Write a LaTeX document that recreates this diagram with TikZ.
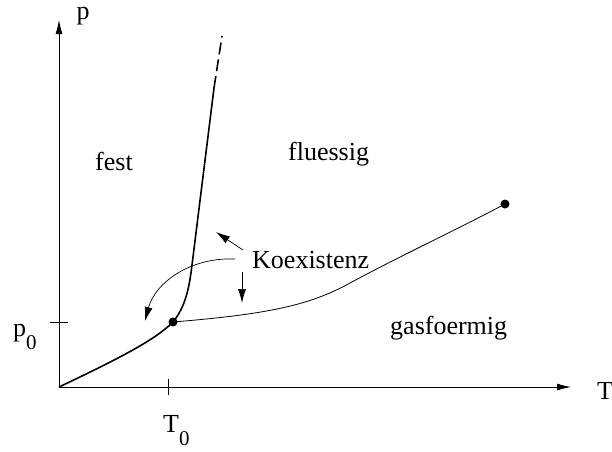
\documentclass[tikz,border=0pt]{standalone}
\usepackage{fontspec}
\setmainfont{Liberation Serif}
\usepackage{tikz}
\usetikzlibrary{arrows.meta,positioning,calc}
\newcommand{\lowidx}[1]{\raisebox{-13pt}{\fontsize{21}{21}\selectfont #1}}

\begin{document}
\begin{tikzpicture}[x=1pt, y=-1pt,
    every node/.style={font=\fontsize{26}{31}\selectfont, inner sep=2pt},
    axis/.style={line width=0.8pt, -{Latex[length=14pt, width=7pt]}},
    phase/.style={line width=1.6pt},
    vapour/.style={line width=0.8pt},
    hint/.style={line width=0.7pt, -{Latex[length=14pt, width=8pt]}},
    pt/.style={circle, fill=black, inner sep=0pt, minimum size=9pt}
  ]
    \useasboundingbox (0,0) rectangle (612,451);
    % Axes
    \coordinate (O) at (59,387);
    \coordinate (xend) at (571,387);
    \coordinate (yend) at (59,20);
    \draw[axis] (O) -- (xend);
    \draw[axis] (O) -- (yend);
    \node (Tlab) at (605,391) {T};
    \node (plab) at (83,16) {p};
    % Ticks
    \coordinate (pl) at (50,322);
    \coordinate (pr) at (68,322);
    \coordinate (tt) at (168,379);
    \coordinate (tb) at (168,395);
    \draw[line width=0.8pt] (pl) -- (pr);
    \draw[line width=0.8pt] (tt) -- (tb);
    \node[anchor=base west] (p0) at (11,336) {p\lowidx{0}};
    \node[anchor=base west] (T0) at (161,432) {T\lowidx{0}};
    % Points
    \node[pt] (tp) at (173,322) {};
    \node[pt] (cp) at (505,204) {};
    % Sublimation and melting curve
    \coordinate (mtop) at (214,88);
    \coordinate (mdash) at (222,36);
    \draw[phase] (O) .. controls (120,358) and (155,340) .. (tp.center)
      .. controls (185,307) and (189,290) .. (192,265) -- (mtop);
    \draw[phase, dash pattern=on 12pt off 5pt] (mtop) -- (mdash);
    % Vapour pressure curve
    \draw[vapour] (tp.center) .. controls (270,314) and (310,305) .. (350,283)
      .. controls (400,256) and (460,228) .. (cp.center);
    % Phase labels
    \node[anchor=base west] (fest) at (93,170) {fest};
    \node[anchor=base west] (fl) at (286,160) {fluessig};
    \node[anchor=base west] (gas) at (388,334) {gasfoermig};
    \node[anchor=base west] (koex) at (250,268) {Koexistenz};
    % Arrows
    \coordinate (a1) at (216,232);
    \coordinate (a2) at (242,303);
    \coordinate (a3) at (145,321);
    \draw[hint] ([xshift=-7pt,yshift=18pt]koex.base west) -- (a1);
    \draw[hint] ([xshift=-8pt,yshift=-4pt]koex.base west) -- (a2);
    \draw[hint] ([xshift=-15pt,yshift=9pt]koex.base west) .. controls (190,257) and (155,283) .. (a3);
  \end{tikzpicture}
\end{document}
